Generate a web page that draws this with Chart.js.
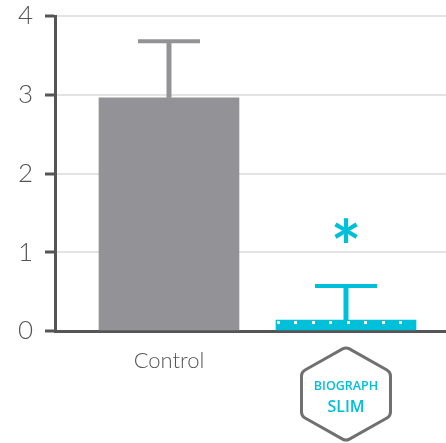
<!DOCTYPE html>
<html>
<head>
<meta charset="utf-8">
<script src="https://cdn.jsdelivr.net/npm/chart.js@4.4.0/dist/chart.umd.min.js"></script>
<style>
  html, body { margin: 0; padding: 0; background: #fff; }
  #wrap { width: 446px; height: 443px; }
</style>
</head>
<body>
<div id="wrap"><canvas id="chart" width="446" height="443"></canvas></div>
<script>
// Values
const categories = ['Control', 'BIOGRAPH SLIM'];
const means      = [2.96, 0.14];
const errors     = [0.72, 0.43];
const marks      = ['', '*'];
const yTicks     = [0, 1, 2, 3, 4];

const GRAY = '#939397';
const CYAN = '#00bfd8';
const AXIS = '#555555';
const barColors = [GRAY, CYAN];

// ── Error bars (stem + cap) ───────────────────────────────
const errorBars = {
  id: 'errorBars',
  afterDatasetsDraw(chart) {
    const { ctx, scales: { x, y } } = chart;
    ctx.save();
    ctx.lineCap = 'butt';
    means.forEach((m, i) => {
      const px   = x.getPixelForValue(i);
      const top  = y.getPixelForValue(m + errors[i]);
      const base = y.getPixelForValue(m);
      ctx.strokeStyle = barColors[i];
      ctx.lineWidth = 5;
      ctx.beginPath(); ctx.moveTo(px, base); ctx.lineTo(px, top); ctx.stroke();
      ctx.lineWidth = 4;
      ctx.beginPath(); ctx.moveTo(px - 31, top); ctx.lineTo(px + 31, top); ctx.stroke();
    });
    ctx.restore();
  }
};

// ── White dots along the cyan bar ─────────────────────────
const barDots = {
  id: 'barDots',
  afterDatasetsDraw(chart) {
    const bar = chart.getDatasetMeta(0).data[1];
    if (!bar) return;
    const { ctx } = chart;
    const left = bar.x - bar.width / 2;
    const step = bar.width / 8;
    ctx.save();
    ctx.fillStyle = '#ffffff';
    for (let k = 0; k < 8; k++) {
      ctx.fillRect(Math.round(left + 1 + k * step), Math.round(bar.y + 1.5), 3, 3);
    }
    ctx.restore();
  }
};

// ── Significance marks above error bars ───────────────────
const sigMarks = {
  id: 'sigMarks',
  afterDatasetsDraw(chart) {
    const { ctx, scales: { x, y } } = chart;
    ctx.save();
    ctx.font = 'bold 72px Lato, "Open Sans", sans-serif';
    ctx.textAlign = 'center';
    ctx.textBaseline = 'alphabetic';
    ctx.fillStyle = CYAN;
    marks.forEach((s, i) => {
      if (!s) return;
      const px = x.getPixelForValue(i);
      const cy = y.getPixelForValue(means[i] + errors[i]) - 56;
      const m = ctx.measureText(s);
      ctx.fillText(s, px, cy + (m.actualBoundingBoxAscent - m.actualBoundingBoxDescent) / 2);
    });
    ctx.restore();
  }
};

// ── Hexagon product logo under the second bar ─────────────
const hexLogo = {
  id: 'hexLogo',
  afterDraw(chart) {
    const { ctx, chartArea, scales: { x } } = chart;
    const cx = x.getPixelForValue(1);
    const t = chartArea.bottom + 16, h = 94, hw = 44.5, q = 25, r = 7;
    const pts = [[cx, t], [cx + hw, t + q], [cx + hw, t + h - q],
                 [cx, t + h], [cx - hw, t + h - q], [cx - hw, t + q]];
    ctx.save();
    ctx.beginPath();
    const last = pts[pts.length - 1];
    ctx.moveTo((last[0] + pts[0][0]) / 2, (last[1] + pts[0][1]) / 2);
    for (let k = 0; k < pts.length; k++) {
      const a = pts[k], b = pts[(k + 1) % pts.length];
      ctx.arcTo(a[0], a[1], b[0], b[1], r);
    }
    ctx.closePath();
    ctx.strokeStyle = '#707070';
    ctx.lineWidth = 3;
    ctx.stroke();

    const words = categories[1].split(' ');
    ctx.fillStyle = CYAN;
    ctx.textAlign = 'center';
    ctx.textBaseline = 'middle';
    ctx.font = '600 12.5px "Open Sans", sans-serif';
    ctx.fillText(words[0], cx, t + 39);
    ctx.font = '600 16px "Open Sans", sans-serif';
    ctx.fillText(words[1], cx, t + 60);
    ctx.restore();
  }
};

new Chart(document.getElementById('chart'), {
  type: 'bar',
  data: {
    datasets: [{
      data: means.map((v, i) => ({ x: i, y: v })),
      backgroundColor: barColors,
      barThickness: 140,
      borderWidth: 0,
    }],
  },
  options: {
    responsive: false,
    animation: false,
    events: [],
    layout: { padding: { top: 16, right: 0, bottom: 0, left: 0 } },
    plugins: { legend: { display: false }, tooltip: { enabled: false } },
    scales: {
      x: {
        type: 'linear',
        min: -0.644,
        max: 1.565,
        offset: false,
        afterBuildTicks: s => { s.ticks = categories.map((_, i) => ({ value: i })); },
        afterFit: s => { s.height = 112; s.paddingLeft = 0; s.paddingRight = 0; },
        grid: { display: false, drawTicks: false, offset: false },
        border: { display: true, color: AXIS, width: 3 },
        ticks: {
          callback: (v, i) => i === 0 ? categories[0] : '',
          color: AXIS,
          font: { family: 'Lato', size: 22, weight: '300' },
          padding: 17,
          maxRotation: 0,
          autoSkip: false,
        },
      },
      y: {
        min: 0,
        max: 4,
        afterBuildTicks: s => { s.ticks = yTicks.map(v => ({ value: v })); },
        afterFit: s => { s.width = 55; s.paddingTop = 0; s.paddingBottom = 0; },
        grid: {
          color: c => (c.tick && c.tick.value === 0) ? 'rgba(0,0,0,0)' : '#e3e3e3',
          lineWidth: 2,
          tickColor: AXIS,
          tickWidth: 3,
          tickLength: 10,
        },
        border: { display: true, color: AXIS, width: 3 },
        ticks: {
          color: AXIS,
          font: { family: 'Lato', size: 26, weight: '300' },
          padding: 12,
        },
      },
    },
  },
  plugins: [errorBars, barDots, sigMarks, hexLogo],
});
</script>
</body>
</html>
